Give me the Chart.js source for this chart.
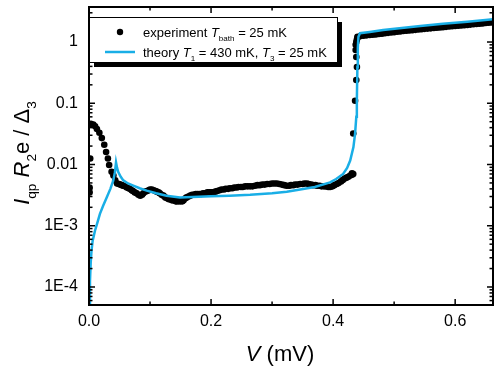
<!DOCTYPE html>
<html>
<head>
<meta charset="utf-8">
<script src="https://cdn.jsdelivr.net/npm/chart.js@4.4.1/dist/chart.umd.min.js"></script>
<style>
  body { margin: 0; background: #fff; }
  canvas { display: block; }
</style>
</head>
<body>
<canvas id="ivChart" width="499" height="371"></canvas>
<script>
// experiment, V (mV) and normalised current
const expV = [0.001, 0.001, 0.002,
  0.003, 0.007, 0.010, 0.013, 0.017, 0.021, 0.025, 0.028, 0.031, 0.033, 0.037, 0.040, 0.043, 0.046,
  0.049, 0.051, 0.054, 0.056, 0.059, 0.062, 0.065, 0.067, 0.070, 0.072, 0.075, 0.078, 0.081, 0.084,
  0.087, 0.089, 0.092, 0.095, 0.098, 0.100, 0.103, 0.106, 0.109, 0.111, 0.114, 0.116, 0.119, 0.122,
  0.125, 0.128, 0.131, 0.133, 0.136, 0.139, 0.142, 0.144, 0.147, 0.150, 0.153, 0.155, 0.158, 0.160,
  0.163, 0.166, 0.169, 0.172, 0.175, 0.178, 0.181, 0.184, 0.187, 0.190, 0.194, 0.197, 0.200, 0.203,
  0.207, 0.210, 0.214, 0.217, 0.221, 0.224, 0.228, 0.231, 0.235, 0.238, 0.242, 0.245, 0.249, 0.252,
  0.256, 0.260, 0.264, 0.268, 0.272, 0.276, 0.280, 0.284, 0.288, 0.292, 0.296, 0.300, 0.304, 0.308,
  0.312, 0.316, 0.320, 0.324, 0.328, 0.331, 0.335, 0.338, 0.342, 0.346, 0.350, 0.353, 0.357, 0.360,
  0.364, 0.367, 0.371, 0.374, 0.378, 0.381, 0.385, 0.388, 0.392, 0.395, 0.399, 0.402, 0.406, 0.409,
  0.413, 0.416, 0.419, 0.422, 0.425, 0.428, 0.431, 0.433,
  0.431, 0.433, 0.436, 0.438, 0.439, 0.438, 0.437, 0.437, 0.438, 0.439, 0.440,
  0.440, 0.445, 0.450, 0.455, 0.460, 0.465, 0.470, 0.475, 0.480, 0.485, 0.490, 0.495, 0.500, 0.505,
  0.510, 0.515, 0.520, 0.525, 0.530, 0.535, 0.540, 0.545, 0.550, 0.555, 0.560, 0.565, 0.570, 0.575,
  0.580, 0.585, 0.590, 0.595, 0.600, 0.605, 0.610, 0.615, 0.620, 0.625, 0.630, 0.635, 0.640, 0.645,
  0.650, 0.655, 0.660];
const expI = [0.0035, 0.0042, 0.0125,
  0.046, 0.045, 0.042, 0.038, 0.033, 0.027, 0.021, 0.016, 0.0125, 0.0098, 0.0076, 0.0066, 0.0055, 0.0049,
  0.0048, 0.0047, 0.0046, 0.0045, 0.0044, 0.0042, 0.0041, 0.0040, 0.0038, 0.0037, 0.0035, 0.0034, 0.0032, 0.0031,
  0.0032, 0.0034, 0.0036, 0.0037, 0.0038, 0.0039, 0.0039, 0.0038, 0.0037, 0.0036, 0.0035, 0.0034, 0.0032, 0.0031,
  0.0029, 0.0028, 0.0027, 0.0027, 0.0026, 0.0026, 0.0025, 0.0025, 0.0025, 0.0025, 0.0025, 0.0026, 0.0028, 0.0029,
  0.0030, 0.0031, 0.0032, 0.0032, 0.0033, 0.0033, 0.0033, 0.0033, 0.0034, 0.0034, 0.0035, 0.0035, 0.0035, 0.0035,
  0.0036, 0.0037, 0.0038, 0.0039, 0.0039, 0.0040, 0.0040, 0.0041, 0.0041, 0.0042, 0.0042, 0.0043, 0.0043, 0.0043,
  0.0044, 0.0044, 0.0044, 0.0044, 0.0045, 0.0046, 0.0046, 0.0047, 0.0047, 0.0048, 0.0048, 0.0049, 0.0049, 0.0049,
  0.0048, 0.0047, 0.0046, 0.0045, 0.0045, 0.0046, 0.0046, 0.0047, 0.0047, 0.0048, 0.0048, 0.0049, 0.0049, 0.0048,
  0.0047, 0.0046, 0.0046, 0.0045, 0.0045, 0.0044, 0.0044, 0.0044, 0.0043, 0.0043, 0.0044, 0.0046, 0.0048, 0.0050,
  0.0053, 0.0056, 0.0059, 0.0061, 0.0063, 0.0066, 0.0068, 0.0070,
  0.0072, 0.032, 0.11, 0.24, 0.39, 0.57, 0.74, 0.90, 1.0, 1.1, 1.18,
  1.22, 1.25, 1.27, 1.285, 1.30, 1.315, 1.33, 1.35, 1.37, 1.39, 1.41, 1.43, 1.45, 1.47,
  1.49, 1.51, 1.53, 1.545, 1.56, 1.58, 1.60, 1.62, 1.64, 1.655, 1.67, 1.69, 1.71, 1.73,
  1.75, 1.77, 1.79, 1.81, 1.83, 1.845, 1.86, 1.88, 1.90, 1.925, 1.95, 1.97, 1.99, 2.015,
  2.04, 2.06, 2.08];

// theory curve
const thV = [0.0005, 0.0016, 0.0028, 0.0041, 0.006, 0.0098, 0.014, 0.0179, 0.023, 0.029, 0.035, 0.0398,
  0.0425, 0.0443, 0.046, 0.048, 0.052, 0.0562, 0.064, 0.0726, 0.083, 0.0946, 0.11, 0.127, 0.149, 0.20,
  0.23, 0.264, 0.30, 0.324, 0.346, 0.37, 0.395, 0.405, 0.4164, 0.423, 0.428, 0.4333, 0.436, 0.438,
  0.4389, 0.4398, 0.4405, 0.4415, 0.444, 0.46, 0.482, 0.52, 0.543, 0.58, 0.62, 0.662];
const thI = [5.3e-5, 1.25e-4, 2.5e-4, 3.9e-4, 5.7e-4, 8.3e-4, 1.15e-3, 1.56e-3, 2.1e-3, 2.9e-3, 4.0e-3, 5.5e-3,
  7.5e-3, 0.0108, 0.0088, 0.0075, 0.0063, 0.0055, 0.0049, 0.00453, 0.0041, 0.00375, 0.0034, 0.0031, 0.0029, 0.00302,
  0.0031, 0.0032, 0.0034, 0.0036, 0.0039, 0.0043, 0.0051, 0.0058, 0.0070, 0.0088, 0.0116, 0.0192, 0.032, 0.06,
  0.112, 0.39, 0.8, 1.22, 1.39, 1.46, 1.57, 1.72, 1.83, 1.98, 2.14, 2.36];

const xTicks = [0, 0.2, 0.4, 0.6];
const xMinorTicks = [0.1, 0.3, 0.5];
const yTicks = [1e-4, 1e-3, 0.01, 0.1, 1];
const yTickLabels = ['1E-4', '1E-3', '0.01', '0.1', '1'];

const expLabel = [{t: 'experiment '}, {t: 'T', it: true}, {t: 'bath', sub: true}, {t: ' = 25 mK'}];
const thLabel = [{t: 'theory '}, {t: 'T', it: true}, {t: '1', sub: true}, {t: ' = 430 mK, '},
  {t: 'T', it: true}, {t: '3', sub: true}, {t: ' = 25 mK'}];
const yTitle = [{t: 'I', it: true}, {t: 'qp', sub: true}, {t: ' '}, {t: 'R', it: true}, {t: '2', sub: true},
  {t: 'e / Δ'}, {t: '3', sub: true}];
const xTitle = [{t: 'V', it: true}, {t: ' (mV)'}];

const FONT = '"Liberation Sans", Arial, sans-serif';
const BLUE = '#19aee6';

function richWidth(ctx, parts, size) {
  let w = 0;
  parts.forEach(p => {
    ctx.font = (p.it ? 'italic ' : '') + (p.sub ? size * 0.62 : size) + 'px ' + FONT;
    w += ctx.measureText(p.t).width;
  });
  return w;
}
function drawRich(ctx, parts, x, y, size) {
  let cx = x;
  ctx.textBaseline = 'alphabetic';
  ctx.textAlign = 'left';
  parts.forEach(p => {
    const s = p.sub ? size * 0.62 : size;
    ctx.font = (p.it ? 'italic ' : '') + s + 'px ' + FONT;
    ctx.fillText(p.t, cx, p.sub ? y + size * 0.3 : y);
    cx += ctx.measureText(p.t).width;
  });
}

const decor = {
  id: 'decor',
  afterDatasetsDraw(chart) {
    const {ctx, chartArea: a, scales: {x, y}} = chart;
    ctx.save();
    ctx.strokeStyle = '#000';
    ctx.lineWidth = 1.5;
    const seg = (x1, y1, x2, y2) => { ctx.beginPath(); ctx.moveTo(x1, y1); ctx.lineTo(x2, y2); ctx.stroke(); };
    const xt = (v, len) => { const p = x.getPixelForValue(v); seg(p, a.bottom, p, a.bottom - len); seg(p, a.top, p, a.top + len); };
    const yt = (v, len) => { const p = y.getPixelForValue(v); seg(a.left, p, a.left + len, p); seg(a.right, p, a.right - len, p); };
    xTicks.forEach(v => xt(v, 6));
    xMinorTicks.forEach(v => xt(v, 3.5));
    yTicks.forEach(v => yt(v, 6));
    for (let d = -5; d <= 0; d++) {
      for (let k = 2; k <= 9; k++) {
        const v = k * Math.pow(10, d);
        if (v > y.min && v < y.max) yt(v, 3.5);
      }
    }
    ctx.lineWidth = 2;
    ctx.strokeRect(a.left, a.top, a.right - a.left, a.bottom - a.top);
    ctx.restore();
  },
  afterDraw(chart) {
    const {ctx, chartArea: a} = chart;
    ctx.save();
    // legend box with drop shadow
    const bx = a.left, by = 17, bw = 248, bh = 45;
    ctx.fillStyle = '#000';
    ctx.fillRect(bx + 5, by + 5, bw, bh);
    ctx.fillStyle = '#fff';
    ctx.fillRect(bx, by, bw, bh);
    ctx.strokeStyle = '#000';
    ctx.lineWidth = 1;
    ctx.strokeRect(bx + 0.5, by + 0.5, bw, bh);
    ctx.fillStyle = '#000';
    ctx.beginPath();
    ctx.arc(bx + 31, by + 15, 3.2, 0, Math.PI * 2);
    ctx.fill();
    ctx.strokeStyle = BLUE;
    ctx.lineWidth = 2.5;
    ctx.beginPath();
    ctx.moveTo(bx + 16, by + 35);
    ctx.lineTo(bx + 46, by + 35);
    ctx.stroke();
    ctx.fillStyle = '#000';
    drawRich(ctx, expLabel, bx + 54, by + 20, 13);
    drawRich(ctx, thLabel, bx + 54, by + 40, 13);
    // axis titles
    const ts = 22;
    drawRich(ctx, xTitle, 280 - richWidth(ctx, xTitle, ts) / 2, 361, ts);
    ctx.save();
    ctx.translate(29, 153);
    ctx.rotate(-Math.PI / 2);
    drawRich(ctx, yTitle, -richWidth(ctx, yTitle, ts) / 2, 0, ts);
    ctx.restore();
    ctx.restore();
  }
};

new Chart(document.getElementById('ivChart').getContext('2d'), {
  type: 'scatter',
  data: {
    datasets: [
      {
        label: 'theory T1 = 430 mK, T3 = 25 mK',
        data: thV.map((v, i) => ({x: v, y: thI[i]})),
        showLine: true,
        borderColor: BLUE,
        borderWidth: 2.5,
        pointRadius: 0,
        order: 0
      },
      {
        label: 'experiment Tbath = 25 mK',
        data: expV.map((v, i) => ({x: v, y: expI[i]})),
        backgroundColor: '#000',
        borderWidth: 0,
        pointRadius: 3.3,
        order: 1
      }
    ]
  },
  options: {
    responsive: false,
    animation: false,
    layout: {padding: {left: 0, top: 7, right: 6, bottom: 0}},
    plugins: {legend: {display: false}, tooltip: {enabled: false}},
    scales: {
      x: {
        type: 'linear',
        min: 0,
        max: 0.662,
        grid: {display: false, drawTicks: false},
        border: {display: false},
        afterBuildTicks: s => { s.ticks = xTicks.map(v => ({value: v})); },
        afterFit: s => { s.height = 66; s.paddingLeft = 0; s.paddingRight = 0; },
        ticks: {
          padding: 7,
          color: '#000',
          font: {family: FONT, size: 16},
          maxRotation: 0,
          callback: v => v.toFixed(1)
        }
      },
      y: {
        type: 'logarithmic',
        min: 5.08e-5,
        max: 3.73,
        grid: {display: false, drawTicks: false},
        border: {display: false},
        afterBuildTicks: s => { s.ticks = yTicks.map(v => ({value: v})); },
        afterFit: s => { s.width = 89; s.paddingTop = 0; s.paddingBottom = 0; },
        ticks: {
          padding: 11,
          color: '#000',
          font: {family: FONT, size: 16},
          callback: (v, i) => yTickLabels[i]
        }
      }
    }
  },
  plugins: [decor]
});
</script>
</body>
</html>
